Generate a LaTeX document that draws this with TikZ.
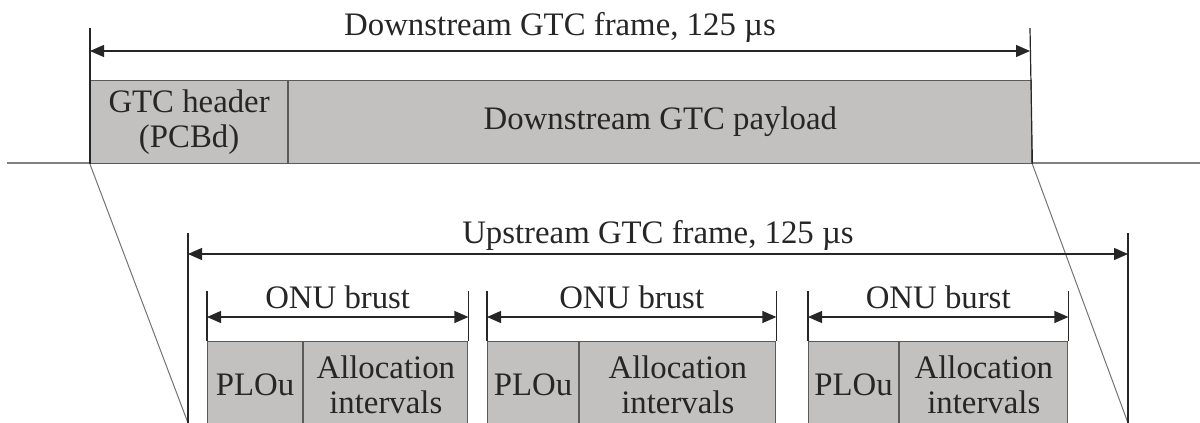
\documentclass[tikz,border=0pt]{standalone}
\usepackage{fontspec}
\setmainfont{Liberation Serif}
\usetikzlibrary{positioning, arrows.meta}
\definecolor{cellgray}{RGB}{195,193,191}
\definecolor{edgegray}{RGB}{90,90,90}
\definecolor{ink}{RGB}{38,38,38}

\begin{document}
\begin{tikzpicture}[
    x=0.5pt, y=-0.5pt,
    font=\fontsize{16.4}{17.5}\selectfont,
    cell/.style={
        draw=edgegray, fill=cellgray, line width=0.6pt, anchor=north west,
        minimum height=41.5pt, inner sep=0pt, align=center, text=ink,
    },
    burstcell/.style={cell, minimum height=43pt},
    tick/.style={draw=ink, line width=0.6pt},
    dim/.style={
        {Triangle[length=7pt,width=6pt]}-{Triangle[length=7pt,width=6pt]},
        draw=ink, line width=0.6pt,
    },
    baseline/.style={draw=gray, line width=0.7pt},
    slant/.style={draw=gray!90!black, line width=0.5pt},
    lbl/.style={anchor=base, text=ink},
]
\clip (0,0) rectangle (1200,423);

% --- helper points ---
\coordinate (dl) at (90,28);
\coordinate (dr) at (1030,28);
\coordinate (darr) at (0,51);
\coordinate (ul) at (188,233);
\coordinate (ulb) at (188,423);
\coordinate (ur) at (1128,233);
\coordinate (urb) at (1128,423);
\coordinate (uarr) at (0,254);
\coordinate (btop) at (0,291);
\coordinate (barr) at (0,317);
\coordinate (lineL) at (7,163);
\coordinate (lineR) at (1200,163);

% --- downstream frame ---
\draw[baseline] (lineL) -- (lineR);
\node[cell, minimum width=98.5pt] (hdr) at (90,80) {GTC header\\(PCBd)};
\node[cell, minimum width=371.5pt] (pay) at (hdr.north east) {Downstream GTC payload};
\draw[tick] (dl) -- (hdr.south west);
\draw[tick] (dr) -- (pay.south east);
\draw[dim] (dl |- darr) -- (dr |- darr)
    node[lbl, midway, yshift=8pt] {Downstream GTC frame, 125 µs};

% --- mapping lines ---
\draw[slant] (hdr.south west) -- (ulb);
\draw[slant] (pay.south east) -- (urb);

% --- upstream frame ---
\draw[tick] (ul) -- (ulb);
\draw[tick] (ur) -- (urb);
\draw[dim] (ul |- uarr) -- (ur |- uarr)
    node[lbl, midway, yshift=5.5pt] {Upstream GTC frame, 125 µs};

% --- ONU bursts ---
\foreach \i/\xa/\wa/\wb/\txt in {1/207/47.5/82/ONU brust, 2/487/45.5/98/ONU brust, 3/808/45/84/ONU burst} {
    \node[burstcell, minimum width=\wa pt] (plou\i) at (\xa,341) {PLOu};
    \node[burstcell, minimum width=\wb pt] (alloc\i) at (plou\i.north east) {Allocation\\intervals};
    \draw[tick] (plou\i.north west |- btop) -- (plou\i.north west);
    \draw[tick] (alloc\i.north east |- btop) -- (alloc\i.north east);
    \draw[dim] (plou\i.north west |- barr) -- (alloc\i.north east |- barr)
        node[lbl, midway, yshift=4.5pt] {\txt};
}

\end{tikzpicture}
\end{document}
